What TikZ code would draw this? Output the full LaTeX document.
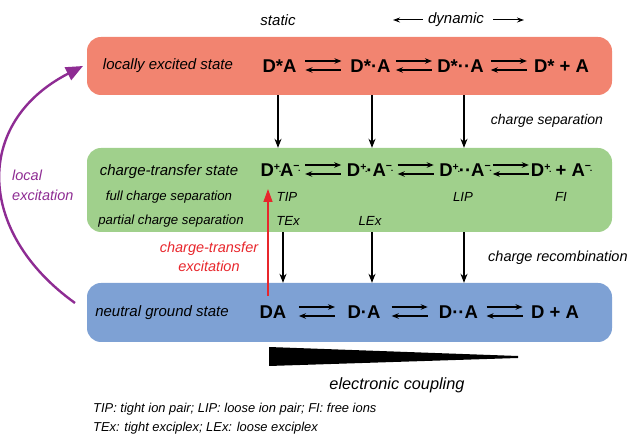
\documentclass[tikz,border=0pt]{standalone}
\usepackage{fontspec}
\setmainfont{Liberation Sans}
\usetikzlibrary{arrows.meta,calc}
\definecolor{lered}{HTML}{F28470}
\definecolor{ctgreen}{HTML}{A0D08C}
\definecolor{gsblue}{HTML}{7EA1D4}
\definecolor{lepurple}{HTML}{8E2C93}
\definecolor{ctred}{HTML}{E8262C}
\newcommand\rcat{\raisebox{0.34em}{\fontsize{10.5}{10.5}\selectfont +\char"0323}}
\newcommand\rani{\raisebox{0.40em}{\fontsize{10.5}{10.5}\selectfont \char"2212\char"0323}}
\newcommand\eqpair[2]{%
  \coordinate (m) at ($(#1.base east)!.5!(#2.base west)$);
  \draw[eqa,-{Stealth[length=7pt,width=5.5pt]}] ([xshift=-18pt,yshift=12pt]m) -- ([xshift=18pt,yshift=12pt]m);
  \draw[eqa,{Stealth[length=7pt,width=5.5pt]}-] ([xshift=-18pt,yshift=3pt]m) -- ([xshift=18pt,yshift=3pt]m);}
\begin{document}
\begin{tikzpicture}[x=1pt,y=-1pt,
  box/.style={draw=none,rounded corners=14pt,inner sep=0pt,minimum width=525pt},
  sp/.style={font=\fontsize{18.5}{20}\selectfont\bfseries,inner sep=0pt,anchor=base},
  lbl/.style={font=\fontsize{15}{18}\selectfont\itshape,inner sep=0pt},
  sml/.style={font=\fontsize{13.2}{16}\selectfont\itshape,inner sep=0pt},
  eqa/.style={line width=1.1pt},
  va/.style={line width=1.2pt,-{Stealth[length=9pt,width=7pt]}},
  ]
\useasboundingbox (0,0) rectangle (630,435);
% boxes
\node[box,fill=lered,minimum height=58pt] (le) at (349.5,66) {};
\node[box,fill=ctgreen,minimum height=84pt] (ct) at (349.5,190) {};
\node[box,fill=gsblue,minimum height=59pt] (gs) at (349.5,312.5) {};
% header
\node[lbl] (static) at (278,20) {static};
\node[lbl] (dyn) at (456,20) {dynamic};
\coordinate (dl) at (393,20); \coordinate (dr) at (524,20);
\draw[line width=1pt,-{Stealth[length=7pt,width=5pt]}] ([xshift=-5pt]dyn.west) -- (dl);
\draw[line width=1pt,-{Stealth[length=7pt,width=5pt]}] ([xshift=9pt]dyn.east) -- (dr);
% state labels
\node[lbl] (lel) at (168,66) {locally excited state};
\node[lbl] (ctl) at (169,172) {charge-transfer state};
\node[sml] (fcs) at (169,197) {full charge separation};
\node[sml] (pcs) at (171,221) {partial charge separation};
\node[lbl] (gsl) at (162,313) {neutral ground state};
% species row 1
\node[sp] (a1) at (279.5,73) {D*A};
\node[sp] (a2) at (370.5,73) {D*·A};
\node[sp] (a3) at (460.5,73) {D*··A};
\node[sp] (a4) at (561.5,73) {D* + A};
\eqpair{a1}{a2}\eqpair{a2}{a3}\eqpair{a3}{a4}
% species row 2
\node[sp] (b1) at (280,177) {D\rcat A\rani};
\node[sp] (b2) at (369.5,177) {D\rcat·A\rani};
\node[sp] (b3) at (465,177) {D\rcat··A\rani};
\node[sp] (b4) at (561,177) {D\rcat{} + A\rani};
\eqpair{b1}{b2}\eqpair{b2}{b3}\eqpair{b3}{b4}
% species row 3
\node[sp] (c1) at (273,319) {DA};
\node[sp] (c2) at (364,319) {D·A};
\node[sp] (c3) at (458.5,319) {D··A};
\node[sp] (c4) at (555,319) {D + A};
\eqpair{c1}{c2}\eqpair{c2}{c3}\eqpair{c3}{c4}
% ct labels
\node[sml] (tip) at (287,197) {TIP};
\node[sml] (lip) at (463,197) {LIP};
\node[sml] (fi) at (561,197) {FI};
\node[sml] (tex) at (288,221) {TEx};
\node[sml] (lex) at (370,221) {LEx};
% vertical arrows
\coordinate (u1) at (278,0); \coordinate (u2) at (372,0); \coordinate (u3) at (464,0);
\coordinate (w1) at (283,0); \coordinate (w2) at (372,0); \coordinate (w3) at (464,0);
\foreach \k in {1,2,3} {
  \draw[va] (le.south -| u\k) -- (ct.north -| u\k);
  \draw[va] (ct.south -| w\k) -- (gs.north -| w\k);
}
\node[font=\fontsize{14}{17}\selectfont\itshape,inner sep=0pt] (csep) at (547,121) {charge separation};
\node[font=\fontsize{14.5}{17}\selectfont\itshape,inner sep=0pt,anchor=west] (crec) at (488,258) {charge recombination};
% CT excitation
\coordinate (r1) at (268,296); \coordinate (r2) at (268,189);
\draw[ctred,line width=1.4pt,-{Triangle[length=13pt,width=9pt]}] (r1) -- (r2);
\node[ctred,font=\fontsize{14.5}{19}\selectfont\itshape,inner sep=0pt,align=center] (ctx) at (209,256.5) {charge-transfer\\excitation};
% local excitation
\coordinate (pa) at (75,303); \coordinate (pb) at (83,66);
\draw[lepurple,line width=2.4pt,-{Triangle[length=17pt,width=14pt]}] (pa) .. controls (-24,232) and (-26,122) .. (pb);
\node[lepurple,font=\fontsize{14.5}{20}\selectfont\itshape,inner sep=0pt,align=left,anchor=west] (lex2) at (12,185) {local\\excitation};
% wedge
\fill (269,347) -- (518,356) -- (518,358) -- (269,366) -- cycle;
\node[font=\fontsize{16.3}{19}\selectfont\itshape,inner sep=0pt] (ec) at (397,385) {electronic coupling};
% footnote
\node[font=\fontsize{12.9}{15}\selectfont\itshape,inner sep=0pt,anchor=west] (fn1) at (93,409) {TIP: tight ion pair; LIP: loose ion pair; FI: free ions};
\node[font=\fontsize{12.9}{15}\selectfont\itshape,inner sep=0pt,anchor=west] (fn2) at (93,428) {TEx: tight exciplex; LEx: loose exciplex};
\end{tikzpicture}
\end{document}
